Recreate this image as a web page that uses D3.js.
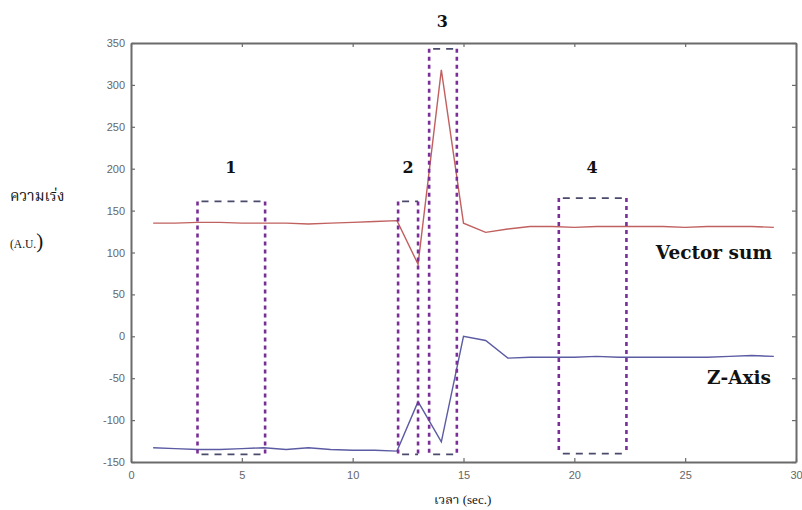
<!DOCTYPE html>
<html><head><meta charset="utf-8">
<script src="https://cdn.jsdelivr.net/npm/d3@7"></script>
<style>body{margin:0;background:#fff}svg{display:block}</style>
</head><body>
<svg id="chart" width="802" height="510"></svg>
<script>
const time = [1,2,3,4,5,6,7,8,9,10,11,12,12.95,14,15,16,17,18,19,20,21,22,23,24,25,26,27,28,29];
const vectorSum = [135,135,136,136,135,135,135,134,135,136,137,138,86,318,135,124,128,131,131,130,131,131,131,131,130,131,131,131,130];
const zAxis = [-133,-134,-135,-135,-134,-133,-135,-133,-135,-136,-136,-137,-78,-126,0,-5,-26,-25,-25,-25,-24,-25,-25,-25,-25,-25,-24,-23,-24];
const xTicks = [0,5,10,15,20,25,30];
const yTicks = [-150,-100,-50,0,50,100,150,200,250,300,350];
const regionNames = ["1","2","3","4"];
const regionX0 = [3.0, 12.05, 13.45, 19.3];
const regionX1 = [6.05, 12.95, 14.7, 22.35];
const regionY0 = [-141, -141, -141, -140];
const regionY1 = [161, 161, 343, 165];
const regionLabelX = [4.5, 12.5, 14.05, 20.8];
const regionLabelY = [200, 200, 375, 200];

const svg = d3.select("#chart");
const L = 131, R = 796, T = 43, B = 462;
const x = d3.scaleLinear().domain([0,30]).range([L,R]);
const y = d3.scaleLinear().domain([-150,350]).range([B,T]);

const axisColor = "#6b6b6b";
const tickFont = "Liberation Sans, Arial, sans-serif";
const fmt = d => String(d);

const gx = svg.append("g").attr("transform",`translate(0,${B})`)
  .call(d3.axisBottom(x).tickValues(xTicks).tickFormat(fmt).tickSize(-4).tickPadding(9).tickSizeOuter(0));
const gy = svg.append("g").attr("transform",`translate(${L},0)`)
  .call(d3.axisLeft(y).tickValues(yTicks).tickFormat(fmt).tickSize(-4).tickPadding(6).tickSizeOuter(0));
const gx2 = svg.append("g").attr("transform",`translate(0,${T})`)
  .call(d3.axisTop(x).tickValues(xTicks).tickSize(-4).tickFormat("").tickSizeOuter(0));
const gy2 = svg.append("g").attr("transform",`translate(${R},0)`)
  .call(d3.axisRight(y).tickValues(yTicks).tickSize(-4).tickFormat("").tickSizeOuter(0));
[gx,gy,gx2,gy2].forEach(g=>{
  g.selectAll("path").attr("stroke",axisColor).attr("stroke-width",2);
  g.selectAll("line").attr("stroke",axisColor).attr("stroke-width",1.2);
  g.selectAll("text").attr("fill","#666").style("font-family",tickFont).style("font-size","11px");
});

const line = d3.line().x((d,i)=>x(time[i])).y(d=>y(d));
svg.append("path").datum(vectorSum).attr("d",line).attr("fill","none")
  .attr("stroke","#c0605f").attr("stroke-width",1.4);
svg.append("path").datum(zAxis).attr("d",line).attr("fill","none")
  .attr("stroke","#5b5ba3").attr("stroke-width",1.4);

const purple = "#7a2f96";
regionNames.forEach((n,i)=>{
  const x0=x(regionX0[i]), x1=x(regionX1[i]), y0=y(regionY0[i]), y1=y(regionY1[i]);
  [[x0,y1,x0,y0],[x1,y1,x1,y0]].forEach(s=>{
    svg.append("line").attr("x1",s[0]).attr("y1",s[1]).attr("x2",s[2]).attr("y2",s[3])
      .attr("stroke",purple).attr("stroke-width",2.6).attr("stroke-dasharray","4,4");
  });
  [[x0,y1,x1,y1],[x0,y0,x1,y0]].forEach(s=>{
    svg.append("line").attr("x1",s[0]).attr("y1",s[1]).attr("x2",s[2]).attr("y2",s[3])
      .attr("stroke","#4a4a6a").attr("stroke-width",1.8).attr("stroke-dasharray","7,6")
      .attr("stroke-dashoffset",-4);
  });
  svg.append("text").attr("x",x(regionLabelX[i])).attr("y",y(regionLabelY[i]))
    .attr("text-anchor","middle").attr("dominant-baseline","middle")
    .style("font-family","DejaVu Serif, serif").style("font-weight","bold").style("font-size","16px")
    .attr("fill","#111").text(n);
});

svg.append("text").attr("x",772).attr("y",259).attr("text-anchor","end")
  .style("font-family","DejaVu Serif, serif").style("font-weight","bold").style("font-size","18.5px")
  .attr("fill","#111").text("Vector sum");
svg.append("text").attr("x",771).attr("y",384).attr("text-anchor","end")
  .style("font-family","DejaVu Serif, serif").style("font-weight","bold").style("font-size","18.5px")
  .attr("fill","#111").text("Z-Axis");

svg.append("text").attr("x",10).attr("y",201)
  .style("font-family","Noto Serif Thai, Noto Sans Thai, Liberation Serif, serif").style("font-size","15px")
  .attr("fill","#111").text("ความเร่ง");
const au = svg.append("text").attr("x",10).attr("y",248)
  .style("font-family","Liberation Serif, Times New Roman, serif").attr("fill","#111");
au.append("tspan").style("font-size","11.5px").text("(A.U.");
au.append("tspan").style("font-size","21px").text(")");
const xl = svg.append("text").attr("x",434).attr("y",504).attr("fill","#111");
xl.append("tspan").style("font-family","Noto Serif Thai, Noto Sans Thai, serif").style("font-size","13px").text("เวลา ");
xl.append("tspan").style("font-family","Liberation Serif, Times New Roman, serif").style("font-size","13px").text("(sec.)");
</script>
</body></html>
